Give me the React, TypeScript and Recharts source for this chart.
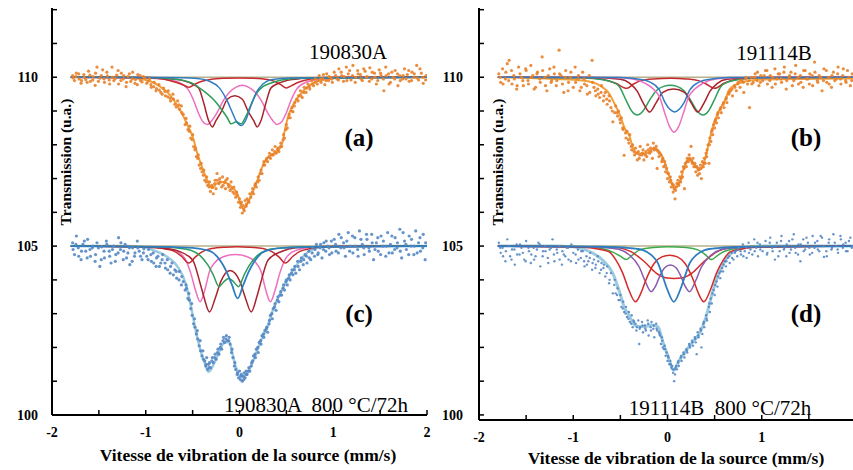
import React from 'react';
import { ComposedChart, Line, Scatter, XAxis, YAxis } from 'recharts';

type P = [number, number];

// ---------- x / y tick values ----------
const X_TICKS = [-2, -1.5, -1, -0.5, 0, 0.5, 1, 1.5, 2];
const Y_TICKS = [100, 101, 102, 103, 104, 105, 106, 107, 108, 109, 110, 111, 112];

// ---------- baselines ----------
const BASE_TOP: P[] = [[-1.8, 110], [2.0, 110]];
const BASE_BOT: P[] = [[-1.8, 105], [2.0, 105]];

// ================= Panel (a) 190830A =================
const FIT_A: P[] = [[-1.8,110.0],[-1.4,110.0],[-1.13,109.97],[-0.95,109.88],[-0.84,109.71],[-0.74,109.47],[-0.66,109.15],[-0.6,108.85],[-0.55,108.55],[-0.5,108.25],[-0.45,107.74],[-0.4,107.35],[-0.345,106.95],[-0.29,106.71],[-0.24,106.86],[-0.17,106.9],[-0.1,106.8],[-0.025,106.56],[0.04,106.11],[0.12,106.46],[0.19,106.95],[0.26,107.45],[0.33,107.69],[0.4,107.79],[0.455,108.04],[0.49,108.53],[0.53,108.93],[0.58,109.22],[0.65,109.5],[0.78,109.82],[0.94,109.94],[1.1,110.0],[2.0,110.0]];
const PINK_A: P[] = [[-1.8,110],[-1.0,109.98],[-0.8,109.94],[-0.65,109.85],[-0.55,109.65],[-0.49,109.32],[-0.44,108.95],[-0.39,108.68],[-0.345,108.6],[-0.3,108.7],[-0.25,108.9],[-0.22,109.05],[-0.17,109.32],[-0.11,109.55],[-0.04,109.7],[0.03,109.76],[0.1,109.7],[0.17,109.55],[0.23,109.32],[0.28,109.05],[0.31,108.9],[0.36,108.7],[0.4,108.6],[0.45,108.68],[0.5,108.95],[0.55,109.32],[0.61,109.65],[0.71,109.85],[0.86,109.94],[1.06,109.98],[2.0,110]];
const DKRED_A: P[] = [[-1.8,110],[-1.0,109.99],[-0.75,109.96],[-0.6,109.9],[-0.5,109.8],[-0.435,109.68],[-0.38,109.22],[-0.33,108.72],[-0.29,108.53],[-0.25,108.72],[-0.19,109.0],[-0.13,109.35],[-0.05,109.45],[0.03,109.35],[0.09,109.0],[0.15,108.72],[0.19,108.53],[0.23,108.72],[0.28,109.22],[0.335,109.68],[0.4,109.8],[0.5,109.9],[0.65,109.96],[0.9,109.99],[2.0,110]];
const RED_A: P[] = [[-1.8,110],[-1.0,109.99],[-0.8,109.94],[-0.68,109.85],[-0.6,109.77],[-0.54,109.7],[-0.47,109.8],[-0.4,109.88],[-0.3,109.94],[-0.15,109.97],[0.0,109.98],[0.15,109.97],[0.3,109.93],[0.38,109.87],[0.44,109.78],[0.5,109.68],[0.56,109.76],[0.63,109.85],[0.75,109.94],[0.95,109.99],[2.0,110]];
const GREEN_A: P[] = [[-1.8,110],[-1.0,109.99],[-0.75,109.96],[-0.59,109.9],[-0.5,109.82],[-0.42,109.67],[-0.34,109.5],[-0.28,109.35],[-0.24,109.22],[-0.18,109.0],[-0.13,108.8],[-0.09,108.62],[-0.035,108.68],[0.02,108.62],[0.06,108.8],[0.11,109.1],[0.15,109.35],[0.19,109.55],[0.25,109.72],[0.33,109.82],[0.45,109.92],[0.65,109.97],[2.0,110]];
const BLUE_A: P[] = [[-1.8,110],[-0.8,109.99],[-0.45,109.96],[-0.32,109.88],[-0.22,109.7],[-0.14,109.35],[-0.08,108.98],[-0.03,108.68],[0.02,108.57],[0.07,108.75],[0.12,109.15],[0.18,109.55],[0.25,109.8],[0.35,109.93],[0.55,109.98],[2.0,110]];
const SCAT_A: P[] = [
[-1.78,110.05],[-1.76,109.9],[-1.74,110.12],[-1.71,109.95],[-1.69,109.82],[-1.66,110.08],[-1.64,109.93],[-1.61,110.18],[-1.59,109.88],[-1.56,110.02],[-1.54,109.76],[-1.52,110.3],[-1.49,109.97],[-1.46,110.22],[-1.44,109.85],[-1.41,110.04],[-1.39,109.92],[-1.36,110.3],[-1.34,109.9],[-1.31,110.06],[-1.29,109.8],[-1.26,110.12],[-1.24,109.95],[-1.21,109.72],[-1.19,110.02],[-1.16,109.88],[-1.14,110.15],[-1.11,109.93],[-1.09,109.78],[-1.06,110.05],[-1.04,109.86],[-1.01,109.98],
[-0.99,109.82],[-0.96,109.95],[-0.94,109.7],[-0.91,109.85],[-0.89,109.6],[-0.86,109.78],[-0.84,109.55],[-0.81,109.68],[-0.79,109.45],[-0.76,109.6],[-0.74,109.38],[-0.71,109.5],[-0.69,109.2],[-0.66,109.3],[-0.64,109.05],[-0.62,109.15],
[-0.6,108.9],[-0.58,108.6],[-0.57,108.78],[-0.55,108.45],[-0.53,108.55],[-0.52,108.2],[-0.5,108.3],[-0.49,107.95],[-0.47,107.9],[-0.46,107.65],[-0.44,107.7],[-0.43,107.4],[-0.41,107.45],[-0.4,107.2],[-0.38,107.25],[-0.37,106.95],[-0.35,107.05],[-0.34,106.8],[-0.32,106.9],[-0.31,106.62],[-0.29,106.75],[-0.28,106.55],
[-0.26,106.95],[-0.25,106.7],[-0.24,107.15],[-0.22,106.85],[-0.21,107.0],[-0.19,106.75],[-0.18,107.05],[-0.16,106.88],[-0.15,106.7],[-0.13,107.0],[-0.12,106.82],[-0.1,106.65],[-0.09,106.9],[-0.07,106.6],[-0.06,106.75],[-0.04,106.45],[-0.03,106.6],[-0.01,106.3],[0.0,106.4],
[0.01,106.15],[0.02,106.3],[0.03,105.98],[0.04,106.2],[0.05,106.05],[0.06,106.35],[0.07,106.18],[0.08,106.4],[0.1,106.3],[0.11,106.55],
[0.12,106.45],[0.14,106.7],[0.15,106.55],[0.17,106.85],[0.18,106.75],[0.2,107.05],[0.21,106.95],[0.23,107.25],[0.24,107.15],[0.26,107.5],[0.27,107.4],[0.29,107.6],[0.3,107.5],[0.32,107.75],[0.33,107.6],[0.35,107.85],[0.36,107.7],[0.38,107.95],[0.39,107.75],[0.41,107.9],[0.42,107.8],[0.44,108.05],[0.45,107.95],[0.47,108.3],[0.48,108.2],[0.5,108.6],[0.51,108.5],[0.53,108.9],[0.54,108.8],[0.56,109.1],[0.57,108.98],[0.59,109.25],[0.61,109.35],
[0.63,109.45],[0.65,109.6],[0.67,109.4],[0.69,109.7],[0.71,109.55],[0.73,109.8],[0.75,109.65],[0.77,109.9],[0.79,109.75],[0.81,109.95],[0.83,109.8],[0.85,110.05],[0.87,109.85],[0.89,109.95],[0.91,109.78],[0.93,110.1],[0.95,109.9],[0.97,110.0],[0.99,109.85],
[1.01,110.15],[1.04,109.95],[1.06,110.25],[1.09,110.05],[1.11,109.88],[1.14,110.3],[1.16,110.1],[1.19,109.92],[1.21,110.35],[1.24,110.0],[1.26,110.2],[1.29,110.08],[1.31,109.9],[1.34,110.18],[1.36,110.02],[1.39,110.28],[1.41,109.95],[1.44,110.12],[1.46,109.8],[1.49,110.22],[1.51,110.05],[1.54,109.6],[1.56,110.3],[1.59,110.1],[1.61,109.85],[1.64,110.0],[1.66,110.2],[1.69,109.75],[1.71,110.05],[1.74,109.95],[1.76,110.25],[1.79,110.08],[1.81,109.88],[1.84,110.15],[1.86,110.0],[1.89,110.35],[1.91,109.92],[1.94,110.12],[1.96,109.82],[1.99,110.05]
];
const SCAT_A2: P[] = [
[-1.775,109.98],[-1.745,110.02],[-1.715,110.1],[-1.685,109.9],[-1.655,110.0],[-1.625,109.85],[-1.595,110.06],[-1.565,109.92],[-1.535,110.12],[-1.505,109.88],[-1.475,110.05],[-1.445,109.95],[-1.415,110.15],[-1.385,109.8],[-1.355,110.0],[-1.325,109.96],[-1.295,110.2],[-1.265,109.9],[-1.235,110.05],[-1.205,109.85],[-1.175,110.1],[-1.145,109.95],[-1.115,109.82],[-1.085,110.08],[-1.055,109.9],[-1.025,110.02],[-0.975,109.88],[-0.945,109.78],[-0.915,109.72],[-0.885,109.66],[-0.855,109.62],[-0.825,109.5],[-0.795,109.58],[-0.765,109.42],[-0.735,109.3],[-0.705,109.35],[-0.675,109.12],[-0.645,109.18],[-0.615,108.95],
[-0.565,108.65],[-0.535,108.4],[-0.505,108.15],[-0.475,107.85],[-0.445,107.6],[-0.415,107.3],[-0.385,107.1],[-0.355,106.9],[-0.325,106.75],[-0.295,106.8],[-0.265,106.85],[-0.235,106.95],[-0.205,106.9],[-0.175,106.8],[-0.145,106.95],[-0.115,106.75],[-0.085,106.7],[-0.055,106.55],[-0.025,106.5],[0.015,106.25],[0.045,106.1],[0.075,106.25],[0.095,106.35],[0.135,106.6],[0.165,106.8],[0.195,106.9],[0.225,107.15],[0.255,107.4],[0.285,107.55],[0.315,107.65],[0.345,107.7],[0.375,107.8],[0.405,107.85],[0.435,107.95],[0.465,108.15],[0.495,108.45],[0.525,108.8],[0.555,109.0],[0.585,109.15],
[0.625,109.3],[0.655,109.45],[0.685,109.55],[0.715,109.68],[0.745,109.72],[0.775,109.8],[0.805,109.85],[0.835,109.9],[0.865,109.95],[0.895,110.08],[0.925,109.9],[0.955,110.02],[0.985,109.95],[1.025,110.05],[1.055,109.92],[1.085,110.15],[1.115,110.02],[1.145,109.9],[1.175,110.2],[1.205,110.05],[1.235,109.85],[1.265,110.1],[1.295,109.95],[1.325,110.25],[1.355,110.0],[1.385,109.88],[1.415,110.15],[1.445,110.0],[1.475,109.9],[1.505,110.12],[1.535,109.95],[1.565,110.05],[1.595,109.8],[1.625,110.15],[1.655,109.95],[1.685,110.1],[1.715,109.9],[1.745,110.05],[1.775,109.95],[1.805,110.2],[1.835,109.9],[1.865,110.1],[1.895,109.98],[1.925,110.25],[1.955,110.0],[1.985,109.92]
];

// ================= Panel (c) 190830A 800 °C/72h =================
const FIT_C: P[] = [[-1.8,105],[-1.2,105],[-1.0,104.96],[-0.92,104.88],[-0.77,104.68],[-0.66,104.39],[-0.575,103.9],[-0.52,103.25],[-0.47,102.55],[-0.42,101.95],[-0.37,101.53],[-0.33,101.28],[-0.24,101.72],[-0.17,102.12],[-0.11,102.17],[-0.08,101.87],[-0.04,101.43],[-0.01,101.18],[0.03,101.13],[0.08,101.23],[0.135,101.53],[0.19,101.92],[0.24,102.27],[0.3,102.61],[0.35,103.06],[0.4,103.4],[0.47,103.8],[0.53,104.1],[0.6,104.4],[0.72,104.8],[0.86,104.97],[1.0,105],[2.0,105]];
const PINK_C: P[] = [[-1.8,105],[-0.9,104.97],[-0.75,104.92],[-0.65,104.82],[-0.58,104.62],[-0.52,104.2],[-0.47,103.7],[-0.42,103.35],[-0.37,103.7],[-0.32,104.25],[-0.26,104.52],[-0.18,104.68],[-0.045,104.75],[0.09,104.68],[0.17,104.52],[0.23,104.25],[0.28,103.7],[0.33,103.35],[0.38,103.7],[0.43,104.2],[0.49,104.62],[0.56,104.82],[0.66,104.92],[0.81,104.97],[1.3,105],[2.0,105]];
const DKRED_C: P[] = [[-1.8,105],[-1.0,104.97],[-0.8,104.93],[-0.65,104.85],[-0.5,104.59],[-0.42,103.9],[-0.38,103.5],[-0.32,103.05],[-0.26,103.45],[-0.2,103.95],[-0.1,104.28],[0.005,103.95],[0.065,103.45],[0.125,103.05],[0.185,103.5],[0.225,103.9],[0.305,104.59],[0.455,104.85],[0.6,104.95],[0.9,104.99],[2.0,105]];
const RED_C: P[] = [[-1.8,105],[-1.0,104.98],[-0.8,104.92],[-0.7,104.85],[-0.62,104.7],[-0.54,104.5],[-0.47,104.68],[-0.4,104.83],[-0.3,104.93],[-0.15,104.97],[-0.025,104.98],[0.1,104.97],[0.25,104.93],[0.35,104.83],[0.42,104.68],[0.49,104.5],[0.57,104.7],[0.65,104.85],[0.75,104.92],[0.95,104.98],[2.0,105]];
const GREEN_C: P[] = [[-1.8,105],[-0.9,104.98],[-0.65,104.94],[-0.52,104.88],[-0.42,104.72],[-0.34,104.45],[-0.28,104.15],[-0.22,103.8],[-0.165,103.95],[-0.115,104.04],[-0.065,103.95],[-0.01,103.8],[0.05,104.15],[0.11,104.45],[0.19,104.72],[0.29,104.88],[0.42,104.94],[0.7,104.98],[2.0,105]];
const BLUE_C: P[] = [[-1.8,105],[-0.8,104.98],[-0.5,104.95],[-0.38,104.9],[-0.28,104.8],[-0.2,104.55],[-0.14,104.25],[-0.08,103.85],[-0.02,103.45],[0.04,103.85],[0.1,104.25],[0.16,104.55],[0.24,104.8],[0.34,104.9],[0.46,104.95],[0.8,104.98],[2.0,105]];
const SCAT_C: P[] = [
[-1.78,105.1],[-1.76,104.75],[-1.74,105.3],[-1.72,104.95],[-1.69,104.6],[-1.67,105.05],[-1.64,104.85],[-1.62,105.2],[-1.59,104.7],[-1.57,104.95],[-1.54,104.55],[-1.52,105.1],[-1.49,104.4],[-1.47,104.98],[-1.44,104.65],[-1.42,105.15],[-1.39,104.85],[-1.37,104.5],[-1.34,105.0],[-1.32,104.75],[-1.29,105.25],[-1.27,104.9],[-1.24,104.6],[-1.22,105.05],[-1.19,104.8],[-1.17,104.45],[-1.14,104.95],[-1.12,104.7],[-1.09,105.15],[-1.07,104.85],[-1.04,104.6],[-1.02,104.92],
[-0.99,104.7],[-0.97,104.9],[-0.94,104.55],[-0.92,104.8],[-0.89,104.4],[-0.87,104.7],[-0.84,104.5],[-0.82,104.75],[-0.79,104.35],[-0.77,104.6],[-0.74,104.2],[-0.72,104.5],[-0.69,104.3],[-0.67,104.05],[-0.64,104.25],[-0.62,103.85],
[-0.6,103.95],[-0.58,103.7],[-0.57,103.85],[-0.55,103.45],[-0.54,103.6],[-0.52,103.15],[-0.51,103.3],[-0.49,102.7],[-0.48,102.85],[-0.46,102.4],[-0.45,102.5],[-0.43,102.05],[-0.42,102.2],[-0.4,101.75],[-0.39,101.9],[-0.37,101.6],[-0.36,101.45],[-0.35,101.7],[-0.34,101.35],[-0.33,101.5],
[-0.32,101.55],[-0.31,101.4],[-0.29,101.7],[-0.28,101.55],[-0.26,101.8],[-0.25,101.65],[-0.23,101.95],[-0.22,101.8],[-0.2,102.1],[-0.19,101.95],[-0.17,102.3],[-0.16,102.15],[-0.14,102.35],[-0.13,102.2],[-0.11,102.3],[-0.1,102.1],
[-0.08,101.95],[-0.07,101.7],[-0.05,101.55],[-0.04,101.35],[-0.02,101.25],[-0.01,101.1],[0.0,101.3],[0.01,101.05],[0.02,101.2],[0.03,101.0],[0.04,101.15],[0.05,101.25],[0.06,101.1],[0.07,101.3],[0.08,101.2],[0.1,101.4],[0.11,101.3],[0.13,101.55],
[0.14,101.6],[0.15,101.75],[0.17,101.7],[0.18,101.95],[0.2,101.85],[0.21,102.15],[0.23,102.1],[0.24,102.35],[0.26,102.3],[0.27,102.5],[0.29,102.6],[0.3,102.45],[0.32,102.8],[0.33,102.95],[0.35,102.85],[0.36,103.15],[0.38,103.3],[0.39,103.1],[0.41,103.5],[0.42,103.35],[0.44,103.65],[0.45,103.55],[0.47,103.85],[0.48,103.7],[0.5,104.0],[0.51,103.85],[0.53,104.15],[0.54,104.0],[0.56,104.3],[0.57,104.15],[0.59,104.4],[0.6,104.2],
[0.62,104.55],[0.64,104.3],[0.66,104.65],[0.68,104.45],[0.7,104.75],[0.72,104.5],[0.74,104.85],[0.76,104.6],[0.78,104.95],[0.8,104.7],[0.82,105.05],[0.84,104.8],[0.86,104.95],[0.88,104.65],[0.9,105.1],[0.92,104.85],[0.94,105.0],[0.96,104.75],[0.98,105.15],
[1.01,105.2],[1.03,104.85],[1.06,105.35],[1.08,104.95],[1.11,105.1],[1.13,104.7],[1.16,105.4],[1.18,105.0],[1.21,104.8],[1.23,105.25],[1.26,104.9],[1.28,105.45],[1.31,105.05],[1.33,104.75],[1.36,105.2],[1.38,104.95],[1.41,105.35],[1.43,104.6],[1.46,105.1],[1.48,104.85],[1.51,105.3],[1.53,105.0],[1.56,104.7],[1.58,105.4],[1.61,105.05],[1.63,104.8],[1.66,105.25],[1.68,104.95],[1.71,105.5],[1.73,104.65],[1.76,105.15],[1.78,104.9],[1.81,105.3],[1.83,105.0],[1.86,104.75],[1.88,105.45],[1.91,105.1],[1.93,104.85],[1.96,105.35],[1.98,104.6]
];
const SCAT_C2: P[] = [
[-1.775,104.9],[-1.745,105.05],[-1.715,104.7],[-1.685,104.85],[-1.655,105.15],[-1.625,104.65],[-1.595,104.9],[-1.565,105.0],[-1.535,104.75],[-1.505,104.95],[-1.475,104.6],[-1.445,104.85],[-1.415,105.05],[-1.385,104.7],[-1.355,104.9],[-1.325,104.55],[-1.295,104.8],[-1.265,105.1],[-1.235,104.85],[-1.205,104.65],[-1.175,104.95],[-1.145,104.55],[-1.115,104.8],[-1.085,104.95],[-1.055,104.7],[-1.025,104.8],[-0.975,104.6],[-0.945,104.75],[-0.915,104.5],[-0.885,104.65],[-0.855,104.4],[-0.825,104.6],[-0.795,104.5],[-0.765,104.3],[-0.735,104.4],[-0.705,104.15],[-0.675,104.25],[-0.645,104.0],[-0.615,104.1],
[-0.565,103.75],[-0.535,103.4],[-0.505,102.95],[-0.475,102.6],[-0.445,102.25],[-0.415,101.9],[-0.385,101.65],[-0.355,101.5],[-0.325,101.4],[-0.295,101.6],[-0.265,101.7],[-0.235,101.85],[-0.205,102.0],[-0.175,102.2],[-0.145,102.25],[-0.115,102.2],[-0.085,101.85],[-0.055,101.45],[-0.025,101.2],[0.015,101.15],[0.045,101.05],[0.075,101.2],[0.095,101.3],[0.125,101.45],[0.165,101.8],[0.195,102.0],[0.225,102.2],[0.255,102.4],[0.285,102.55],[0.315,102.7],[0.345,103.0],[0.375,103.2],[0.405,103.4],[0.435,103.55],[0.465,103.75],[0.495,103.95],[0.525,104.05],[0.555,104.2],[0.585,104.3],
[0.625,104.4],[0.655,104.55],[0.685,104.6],[0.715,104.7],[0.745,104.65],[0.775,104.8],[0.805,104.9],[0.835,104.75],[0.865,105.05],[0.895,104.9],[0.925,105.15],[0.955,104.95],[0.985,104.8],[1.025,105.05],[1.055,104.8],[1.085,105.25],[1.115,104.95],[1.145,105.15],[1.175,104.85],[1.205,105.3],[1.235,105.0],[1.265,104.7],[1.295,105.2],[1.325,104.95],[1.355,105.35],[1.385,104.85],[1.415,105.1],[1.445,104.9],[1.475,105.25],[1.505,104.75],[1.535,105.15],[1.565,105.0],[1.595,104.8],[1.625,105.3],[1.655,104.9],[1.685,105.1],[1.715,104.85],[1.745,105.4],[1.775,105.05],[1.805,104.75],[1.835,105.2],[1.865,105.0],[1.895,104.8],[1.925,105.25],[1.955,104.95],[1.985,105.1]
];

// ================= Panel (b) 191114B =================
const FIT_B: P[] = [[-1.8,110],[-1.2,109.95],[-0.9,109.9],[-0.72,109.76],[-0.62,109.52],[-0.55,109.15],[-0.5,108.85],[-0.46,108.53],[-0.4,108.23],[-0.37,107.94],[-0.32,107.74],[-0.23,107.74],[-0.14,107.89],[-0.085,107.79],[-0.03,107.49],[0.02,107.05],[0.075,106.71],[0.13,106.9],[0.18,107.35],[0.23,107.59],[0.29,107.4],[0.34,107.25],[0.39,107.49],[0.43,107.94],[0.48,108.53],[0.535,108.93],[0.61,109.32],[0.66,109.65],[0.8,109.86],[1.0,109.93],[2.0,109.96]];
const PINK_B: P[] = [[-1.8,110],[-0.6,109.99],[-0.37,109.95],[-0.23,109.81],[-0.15,109.65],[-0.085,109.42],[-0.03,108.95],[0.02,108.55],[0.07,108.37],[0.12,108.55],[0.17,108.95],[0.225,109.42],[0.29,109.65],[0.37,109.81],[0.51,109.95],[0.75,109.99],[2.0,110]];
const BLUE_B: P[] = [[-1.8,110],[-0.5,109.99],[-0.3,109.94],[-0.19,109.86],[-0.085,109.62],[-0.03,109.27],[0.025,109.05],[0.075,108.97],[0.125,109.05],[0.18,109.27],[0.235,109.62],[0.34,109.86],[0.45,109.94],[0.65,109.99],[2.0,110]];
const GREEN_B: P[] = [[-1.8,110],[-0.9,109.98],[-0.7,109.93],[-0.58,109.85],[-0.51,109.72],[-0.44,109.32],[-0.38,109.0],[-0.32,108.88],[-0.26,109.0],[-0.19,109.32],[-0.12,109.6],[-0.04,109.73],[0.03,109.76],[0.1,109.73],[0.175,109.6],[0.245,109.32],[0.315,109.0],[0.375,108.88],[0.435,109.0],[0.495,109.32],[0.565,109.72],[0.635,109.85],[0.755,109.93],[0.955,109.98],[2.0,110]];
const DKRED_B: P[] = [[-1.8,110],[-0.8,109.99],[-0.5,109.94],[-0.4,109.82],[-0.32,109.58],[-0.26,109.25],[-0.19,108.97],[-0.12,109.25],[-0.05,109.55],[0.065,109.65],[0.18,109.55],[0.25,109.25],[0.32,108.97],[0.39,109.25],[0.45,109.58],[0.53,109.82],[0.63,109.94],[0.93,109.99],[2.0,110]];
const RED_B: P[] = [[-1.8,110],[-0.9,109.99],[-0.68,109.93],[-0.55,109.82],[-0.43,109.67],[-0.36,109.8],[-0.28,109.9],[-0.15,109.95],[0.035,109.97],[0.2,109.95],[0.33,109.9],[0.41,109.8],[0.5,109.67],[0.6,109.82],[0.73,109.93],[0.95,109.99],[2.0,110]];
const SCAT_B: P[] = [
[-1.79,110.1],[-1.77,109.85],[-1.75,110.25],[-1.72,109.95],[-1.7,110.4],[-1.68,110.5],[-1.65,109.8],[-1.63,110.05],[-1.6,109.65],[-1.58,110.3],[-1.55,110.0],[-1.53,109.75],[-1.5,110.2],[-1.48,109.9],[-1.45,110.35],[-1.43,110.05],[-1.4,109.7],[-1.38,110.15],[-1.35,109.85],[-1.33,110.6],[-1.3,110.0],[-1.28,109.6],[-1.25,110.25],[-1.23,109.9],[-1.2,110.1],[-1.18,109.75],[-1.15,110.8],[-1.13,110.05],[-1.1,109.55],[-1.08,110.2],[-1.05,109.85],[-1.03,110.0],[-1.0,109.7],[-0.98,110.3],[-0.95,109.95],[-0.93,109.6],[-0.9,110.15],[-0.88,109.8],[-0.85,109.5],[-0.83,110.05],[-0.8,110.5],[-0.78,109.7],[-0.76,109.45],
[-0.74,109.65],[-0.72,109.4],[-0.7,109.75],[-0.68,109.3],[-0.66,109.55],[-0.64,109.2],[-0.62,109.45],[-0.6,109.1],[-0.58,108.68],[-0.56,108.95],
[-0.55,109.15],[-0.53,108.85],[-0.52,109.0],[-0.5,108.65],[-0.49,108.8],[-0.47,108.45],[-0.46,107.69],[-0.44,108.2],[-0.43,108.4],[-0.41,108.05],[-0.4,108.3],[-0.38,107.85],[-0.37,108.0],[-0.35,107.7],[-0.34,107.9],[-0.32,107.55],
[-0.31,107.8],[-0.3,107.6],[-0.29,107.95],[-0.27,107.7],[-0.26,107.85],[-0.25,107.55],[-0.23,107.8],[-0.22,107.65],[-0.21,108.0],[-0.19,107.75],[-0.18,107.9],[-0.16,107.6],[-0.15,108.05],[-0.14,107.85],[-0.12,107.95],[-0.11,107.3],[-0.1,107.8],[-0.09,107.65],
[-0.07,107.7],[-0.06,107.5],[-0.05,107.6],[-0.04,107.35],[-0.03,107.5],[-0.02,107.2],[-0.01,107.3],[0.0,107.0],[0.01,107.15],[0.02,106.9],[0.03,107.05],[0.04,106.75],[0.05,106.85],[0.06,106.6],[0.07,106.7],[0.08,106.4],[0.09,106.75],
[0.1,106.85],[0.11,106.95],[0.12,106.8],[0.13,107.05],[0.14,106.9],[0.15,107.2],[0.16,107.05],[0.17,107.35],[0.18,106.7],[0.19,107.45],[0.2,107.35],[0.21,107.6],[0.22,107.5],[0.23,107.7],[0.24,107.55],
[0.25,107.95],[0.26,107.5],[0.27,107.6],[0.28,107.35],[0.29,107.45],[0.3,107.2],[0.31,107.35],[0.32,107.1],[0.33,107.3],[0.34,107.15],[0.35,107.4],[0.36,107.0],[0.37,107.5],[0.38,107.35],[0.39,107.6],[0.4,107.45],[0.41,107.75],
[0.42,107.85],[0.43,108.0],[0.44,107.45],[0.45,108.2],[0.46,108.1],[0.47,108.4],[0.48,108.3],[0.49,108.6],[0.5,108.5],[0.51,108.75],[0.52,108.65],[0.53,108.9],[0.54,108.8],[0.56,109.05],[0.57,108.95],[0.59,109.2],[0.6,109.1],[0.62,109.35],[0.63,109.25],[0.65,109.5],
[0.67,109.6],[0.69,109.45],[0.71,109.75],[0.73,109.6],[0.75,109.85],[0.77,109.7],[0.79,109.9],[0.81,109.55],[0.83,109.95],[0.85,109.8],[0.87,109.1],[0.89,110.0],[0.91,109.85],[0.93,110.1],[0.95,109.9],[0.97,109.75],[0.99,110.05],
[1.01,109.9],[1.04,110.2],[1.06,109.8],[1.09,110.05],[1.11,109.7],[1.14,110.25],[1.16,109.95],[1.19,110.1],[1.21,109.85],[1.24,110.3],[1.26,109.65],[1.29,110.0],[1.31,110.15],[1.34,109.9],[1.36,110.35],[1.39,109.8],[1.41,110.05],[1.44,109.7],[1.46,110.2],[1.49,109.95],[1.51,110.1],[1.54,109.75],[1.56,110.45],[1.59,109.9],[1.61,110.05],[1.64,109.6],[1.66,110.25],[1.69,109.85],[1.71,110.0],[1.74,109.7],[1.76,110.15],[1.79,109.95],[1.81,110.3],[1.84,109.8],[1.86,110.05],[1.89,109.9],[1.91,110.2],[1.94,109.75],[1.96,110.1]
];
const SCAT_B2: P[] = [
[-1.775,110.0],[-1.745,109.8],[-1.715,110.15],[-1.685,109.9],[-1.655,110.2],[-1.625,109.95],[-1.595,109.75],[-1.565,110.1],[-1.535,109.9],[-1.505,110.25],[-1.475,109.8],[-1.445,110.0],[-1.415,109.65],[-1.385,110.1],[-1.355,109.95],[-1.325,110.2],[-1.295,109.75],[-1.265,110.05],[-1.235,109.85],[-1.205,110.3],[-1.175,109.9],[-1.145,110.1],[-1.115,109.8],[-1.085,110.0],[-1.055,109.6],[-1.025,110.15],[-0.975,109.85],[-0.945,110.05],[-0.915,109.7],[-0.885,109.95],[-0.855,109.75],[-0.825,109.55],[-0.795,109.85],[-0.765,109.6],[-0.735,109.5],[-0.705,109.55],[-0.675,109.45],[-0.645,109.35],[-0.615,109.3],[-0.585,109.0],
[-0.535,108.95],[-0.505,108.75],[-0.475,108.5],[-0.445,108.35],[-0.415,108.15],[-0.385,107.95],[-0.355,107.8],[-0.325,107.75],[-0.295,107.7],[-0.265,107.75],[-0.235,107.7],[-0.205,107.85],[-0.175,107.8],[-0.145,107.9],[-0.115,107.85],[-0.085,107.75],[-0.055,107.55],[-0.025,107.4],[0.005,107.15],[0.035,106.95],[0.065,106.8],[0.085,106.65],[0.115,106.85],[0.145,107.0],[0.175,107.3],[0.205,107.5],[0.235,107.6],[0.265,107.45],[0.295,107.35],[0.325,107.25],[0.355,107.3],[0.385,107.45],[0.415,107.65],[0.445,108.0],[0.475,108.45],[0.505,108.7],[0.535,108.95],[0.565,109.1],[0.595,109.25],
[0.625,109.4],[0.655,109.55],[0.685,109.65],[0.715,109.7],[0.745,109.8],[0.775,109.9],[0.805,109.85],[0.835,110.0],[0.865,109.9],[0.895,109.8],[0.925,110.0],[0.955,110.15],[0.985,109.85],[1.025,110.05],[1.055,110.2],[1.085,109.9],[1.115,110.0],[1.145,109.8],[1.175,110.1],[1.205,109.95],[1.235,110.15],[1.265,109.9],[1.295,110.05],[1.325,109.75],[1.355,110.1],[1.385,110.0],[1.415,109.85],[1.445,110.2],[1.475,109.95],[1.505,109.8],[1.535,110.05],[1.565,110.15],[1.595,109.85],[1.625,110.0],[1.655,109.9],[1.685,110.2],[1.715,109.8],[1.745,110.05],[1.775,109.9],[1.805,110.1],[1.835,109.95],[1.865,110.25],[1.895,109.85],[1.925,110.0],[1.955,109.9]
];

// ================= Panel (d) 191114B 800 °C/72h =================
const FIT_D: P[] = [[-1.8,105],[-1.2,105],[-1.0,104.98],[-0.865,104.88],[-0.69,104.59],[-0.58,104.19],[-0.51,103.65],[-0.46,103.2],[-0.4,102.91],[-0.35,102.66],[-0.26,102.61],[-0.17,102.66],[-0.1,102.61],[-0.05,102.17],[0.0,101.78],[0.067,101.33],[0.13,101.63],[0.2,101.92],[0.27,102.17],[0.34,102.42],[0.41,102.91],[0.465,103.5],[0.52,104.0],[0.57,104.35],[0.63,104.65],[0.73,104.88],[0.87,104.98],[1.0,105],[2.0,105]];
const RED_D: P[] = [[-1.8,105],[-1.0,104.98],[-0.8,104.94],[-0.62,104.83],[-0.55,104.6],[-0.475,104.2],[-0.41,103.7],[-0.34,103.35],[-0.28,103.62],[-0.23,103.99],[-0.14,104.49],[-0.06,104.68],[0.0225,104.73],[0.105,104.68],[0.185,104.49],[0.275,103.99],[0.325,103.62],[0.385,103.35],[0.455,103.7],[0.52,104.2],[0.595,104.6],[0.665,104.83],[0.845,104.94],[1.05,104.98],[2.0,105]];
const RED2_D: P[] = [[-1.8,105],[-0.6,104.97],[-0.4,104.85],[-0.25,104.55],[-0.12,104.2],[-0.02,104.06],[0.07,104.04],[0.16,104.06],[0.26,104.2],[0.39,104.55],[0.54,104.85],[0.74,104.97],[2.0,105]];
const PURPLE_D: P[] = [[-1.8,105],[-0.9,104.98],[-0.65,104.95],[-0.51,104.9],[-0.4,104.73],[-0.3,104.38],[-0.235,103.95],[-0.175,103.65],[-0.12,103.85],[-0.085,104.09],[-0.03,104.36],[0.03,104.44],[0.09,104.36],[0.145,104.09],[0.18,103.85],[0.235,103.65],[0.295,103.95],[0.36,104.38],[0.46,104.73],[0.57,104.9],[0.71,104.95],[0.96,104.98],[2.0,105]];
const BLUE_D: P[] = [[-1.8,105],[-0.7,104.98],[-0.4,104.94],[-0.26,104.88],[-0.17,104.73],[-0.1,104.49],[-0.05,104.1],[0.0,103.7],[0.067,103.35],[0.134,103.7],[0.184,104.1],[0.234,104.49],[0.304,104.73],[0.394,104.88],[0.534,104.94],[0.834,104.98],[2.0,105]];
const GREEN_D: P[] = [[-1.8,105],[-0.9,104.99],[-0.7,104.93],[-0.58,104.82],[-0.5,104.7],[-0.44,104.6],[-0.38,104.72],[-0.3,104.88],[-0.15,104.96],[0.01,104.98],[0.2,104.96],[0.33,104.88],[0.4,104.75],[0.465,104.6],[0.53,104.72],[0.6,104.84],[0.72,104.93],[0.9,104.99],[2.0,105]];
const SCAT_D: P[] = [
[-1.79,105.1],[-1.77,104.8],[-1.75,104.95],[-1.72,104.55],[-1.7,105.2],[-1.67,104.7],[-1.65,104.9],[-1.62,104.45],[-1.6,105.05],[-1.57,104.75],[-1.55,104.95],[-1.52,104.6],[-1.5,105.15],[-1.47,104.85],[-1.45,104.5],[-1.42,104.95],[-1.4,104.7],[-1.37,105.1],[-1.35,104.4],[-1.32,104.85],[-1.3,105.0],[-1.27,104.65],[-1.25,104.9],[-1.22,105.2],[-1.2,104.55],[-1.17,104.8],[-1.15,105.0],[-1.12,104.45],[-1.1,104.75],[-1.07,104.95],[-1.05,104.6],[-1.02,105.05],[-1.0,104.8],[-0.97,104.5],[-0.95,104.9],[-0.92,104.65],
[-0.9,104.85],[-0.88,104.4],[-0.86,104.7],[-0.84,104.55],[-0.82,104.8],[-0.8,104.3],[-0.78,104.6],[-0.76,104.45],[-0.74,104.7],[-0.72,104.2],[-0.7,104.5],[-0.68,104.35],[-0.66,104.1],[-0.64,104.4],[-0.62,103.9],[-0.6,104.2],
[-0.58,103.6],[-0.56,104.0],[-0.55,103.6],[-0.53,103.75],[-0.52,103.4],[-0.5,103.55],[-0.49,103.2],[-0.47,103.35],[-0.46,103.05],[-0.44,103.2],[-0.43,102.9],[-0.41,103.05],[-0.4,102.75],[-0.38,102.95],[-0.37,102.6],[-0.36,102.8],
[-0.34,102.7],[-0.33,102.5],[-0.31,102.8],[-0.3,102.1],[-0.29,102.6],[-0.27,102.75],[-0.26,102.45],[-0.24,102.65],[-0.23,102.5],[-0.21,102.8],[-0.2,102.35],[-0.18,102.6],[-0.17,102.75],[-0.15,102.55],[-0.14,102.3],[-0.12,102.7],[-0.11,102.5],[-0.09,102.45],
[-0.08,102.35],[-0.07,102.1],[-0.06,102.3],[-0.05,102.0],[-0.04,101.95],[-0.03,102.05],[-0.02,101.75],[-0.01,101.85],[0.0,101.6],[0.01,101.7],[0.02,101.5],[0.03,101.6],[0.04,101.4],[0.05,101.45],[0.06,101.25],[0.07,101.0],[0.075,101.35],[0.08,101.2],
[0.09,101.45],[0.1,101.35],[0.11,101.55],[0.12,101.45],[0.14,101.7],[0.15,101.6],[0.17,101.85],[0.18,101.7],[0.2,101.95],[0.21,101.85],[0.23,102.1],[0.24,102.0],[0.26,102.2],[0.27,102.05],[0.29,102.3],[0.3,102.15],[0.31,101.8],[0.32,102.45],[0.33,102.3],[0.35,102.55],[0.36,102.0],[0.37,102.4],[0.38,102.7],[0.39,102.6],[0.41,102.95],[0.42,102.8],[0.44,103.2],[0.45,103.05],
[0.46,103.45],[0.47,103.3],[0.49,103.7],[0.5,103.55],[0.52,103.95],[0.53,103.8],[0.55,104.2],[0.56,104.05],[0.58,104.35],[0.59,104.25],[0.61,104.55],[0.62,104.4],[0.64,104.65],[0.66,104.5],[0.68,104.8],[0.7,104.6],
[0.72,104.85],[0.74,104.7],[0.76,104.95],[0.78,104.75],[0.8,105.05],[0.82,104.85],[0.84,104.65],[0.86,105.1],[0.88,104.9],[0.9,104.75],[0.92,105.2],[0.94,104.95],[0.96,104.7],[0.98,105.05],[1.01,104.85],[1.04,105.15],[1.06,104.8],[1.09,105.25],[1.11,104.95],[1.14,104.6],[1.16,105.1],[1.19,104.85],[1.21,105.3],[1.24,104.95],[1.26,104.7],[1.29,105.15],[1.31,104.9],[1.34,105.35],[1.36,104.8],[1.39,105.05],[1.41,104.55],[1.44,105.2],[1.46,104.9],[1.49,105.1],[1.51,104.75],[1.54,105.3],[1.56,104.95],[1.59,105.15],[1.61,104.85],[1.64,105.25],[1.66,104.68],[1.69,104.7],[1.71,105.1],[1.74,104.9],[1.76,105.35],[1.79,105.0],[1.81,104.8],[1.84,105.2],[1.86,104.95],[1.89,105.1],[1.91,104.85],[1.94,105.25],[1.96,105.0]
];
const SCAT_D2: P[] = [
[-1.775,104.95],[-1.745,104.7],[-1.715,104.85],[-1.685,105.0],[-1.655,104.6],[-1.625,104.9],[-1.595,104.75],[-1.565,105.05],[-1.535,104.8],[-1.505,104.55],[-1.475,104.95],[-1.445,104.75],[-1.415,104.6],[-1.385,104.9],[-1.355,105.05],[-1.325,104.7],[-1.295,104.85],[-1.265,104.5],[-1.235,104.95],[-1.205,104.75],[-1.175,104.9],[-1.145,104.6],[-1.115,104.85],[-1.085,104.7],[-1.055,104.95],[-1.025,104.55],[-0.975,104.75],[-0.945,104.6],[-0.915,104.85],[-0.885,104.55],[-0.855,104.45],[-0.825,104.65],[-0.795,104.5],[-0.765,104.35],[-0.735,104.55],[-0.705,104.3],[-0.675,104.45],[-0.645,104.2],[-0.615,104.0],
[-0.565,103.85],[-0.535,103.55],[-0.505,103.4],[-0.475,103.15],[-0.445,103.0],[-0.415,102.85],[-0.385,102.7],[-0.355,102.75],[-0.325,102.6],[-0.295,102.55],[-0.265,102.65],[-0.235,102.55],[-0.205,102.7],[-0.175,102.5],[-0.145,102.65],[-0.115,102.55],[-0.085,102.4],[-0.055,102.2],[-0.025,101.95],[0.005,101.75],[0.035,101.5],[0.055,101.35],[0.085,101.4],[0.115,101.6],[0.145,101.75],[0.175,101.8],[0.205,101.9],[0.235,102.05],[0.265,102.15],[0.295,102.25],[0.325,102.35],[0.355,102.5],[0.385,102.75],[0.415,102.85],[0.445,103.3],[0.475,103.6],[0.505,103.85],[0.535,104.1],[0.565,104.25],[0.595,104.45],
[0.625,104.55],[0.655,104.7],[0.685,104.65],[0.715,104.8],[0.745,104.9],[0.775,104.85],[0.805,104.7],[0.835,104.95],[0.865,104.8],[0.895,105.0],[0.925,104.85],[0.955,105.1],[0.985,104.9],[1.025,105.0],[1.055,104.75],[1.085,105.1],[1.115,104.85],[1.145,105.0],[1.175,104.7],[1.205,105.15],[1.235,104.9],[1.265,105.05],[1.295,104.8],[1.325,105.2],[1.355,104.95],[1.385,104.75],[1.415,105.05],[1.445,104.85],[1.475,105.25],[1.505,104.95],[1.535,104.8],[1.565,105.1],[1.595,104.9],[1.625,105.3],[1.655,105.0],[1.685,104.85],[1.715,105.2],[1.745,104.95],[1.775,105.1],[1.805,104.9],[1.835,105.3],[1.865,105.05],[1.895,104.85],[1.925,105.15],[1.955,104.95]
];

// ---------- styling ----------
const SERIF = "'Liberation Serif','Times New Roman',Times,serif";
const C = {
  orangePt: '#E8812A', orangeFit: '#F2A03A',
  bluePt: '#5487C4', blueFit: '#9CCBE0',
  pink: '#EE6FC0', dkred: '#A8232B', red: '#C62A2F', green: '#2E9E5B', blue: '#2F7DC0',
  tan: '#B8B08C', red2: '#D42A2A', purple: '#8A5AAE', greenD: '#3BAA4A',
};

const pts = (a: P[]) => a.map(([v, t]) => ({ v, t }));
const dot = (color: string, r: number) => (props: any) =>
  props.cx == null ? <g /> : <circle cx={props.cx} cy={props.cy} r={r} fill={color} fillOpacity={0.9} />;

const fmtX = (v: number) => (Number.isInteger(v) ? String(v) : '');
const fmtXRight = (v: number) => (Number.isInteger(v) && v < 2 ? String(v) : '');
const fmtY = (v: number) => (v % 5 === 0 ? String(v) : '');

type LS = [P[], string, number];

function lines(list: LS[], key: string) {
  return list.map(([d, color, w], i) => (
    <Line key={key + i} data={pts(d)} dataKey="t" type="monotone" stroke={color} strokeWidth={w}
      dot={false} activeDot={false} isAnimationActive={false} />
  ));
}

const tickStyle = { fontFamily: SERIF, fontSize: 14, fontWeight: 700, fill: '#000' };
const axisLine = { stroke: '#000', strokeWidth: 2 };
const tickLine = { stroke: '#000', strokeWidth: 1.5 };

function Txt({ x, y, size, bold, children, rotate }: any) {
  return (
    <div style={{
      position: 'absolute', left: x, top: y, transform: `translate(-50%,-50%)${rotate ? ' rotate(-90deg)' : ''}`,
      fontFamily: SERIF, fontSize: size, fontWeight: bold ? 700 : 400, whiteSpace: 'pre', lineHeight: 1, color: '#000',
    }}>{children}</div>
  );
}

export default function App() {
  return (
    <div style={{ position: 'absolute', left: 0, top: 0, width: 853, height: 470, overflow: 'hidden', background: '#fff' }}>
      {/* left chart: (a) and (c) */}
      <div style={{ position: 'absolute', left: 0, top: 0 }}>
        <ComposedChart width={440} height={470} margin={{ top: 8, right: 13, left: 0, bottom: 0 }}>
          <XAxis dataKey="v" type="number" domain={[-2, 2]} ticks={X_TICKS} tickFormatter={fmtX} height={55}
            tickSize={-5} tickMargin={17} tick={tickStyle} axisLine={axisLine} tickLine={tickLine} allowDataOverflow />
          <XAxis xAxisId="top" orientation="top" type="number" domain={[-2, 2]} height={0} tick={false} tickLine={false} axisLine={axisLine} />
          <YAxis dataKey="t" type="number" domain={[100, 112.05]} ticks={Y_TICKS} tickFormatter={fmtY} width={52}
            tickSize={-5} tickMargin={19} tick={tickStyle} axisLine={axisLine} tickLine={tickLine} allowDataOverflow />
          <YAxis yAxisId="right" orientation="right" type="number" domain={[100, 112.05]} width={0} tick={false} tickLine={false} axisLine={axisLine} />
          {lines([[FIT_A, C.orangeFit, 2], [FIT_C, C.blueFit, 2.5]], 'fit')}
          <Scatter data={pts(SCAT_A)} shape={dot(C.orangePt, 1.6)} isAnimationActive={false} />
          <Scatter data={pts(SCAT_A2)} shape={dot(C.orangePt, 1.6)} isAnimationActive={false} />
          <Scatter data={pts(SCAT_C)} shape={dot(C.bluePt, 1.6)} isAnimationActive={false} />
          <Scatter data={pts(SCAT_C2)} shape={dot(C.bluePt, 1.6)} isAnimationActive={false} />
          {lines([
            [BASE_TOP, C.tan, 1.5], [BASE_BOT, C.tan, 1.5],
            [PINK_A, C.pink, 1.5], [RED_A, C.red, 1.5], [DKRED_A, C.dkred, 1.5], [GREEN_A, C.green, 1.5], [BLUE_A, C.blue, 1.5],
            [PINK_C, C.pink, 1.5], [RED_C, C.red, 1.5], [DKRED_C, C.dkred, 1.5], [GREEN_C, C.green, 1.5], [BLUE_C, C.blue, 1.8],
          ], 'comp')}
        </ComposedChart>
      </div>
      {/* right chart: (b) and (d) */}
      <div style={{ position: 'absolute', left: 440, top: 0 }}>
        <ComposedChart width={440} height={470} margin={{ top: 8, right: 24, left: 0, bottom: 0 }}>
          <XAxis dataKey="v" type="number" domain={[-2, 2]} ticks={X_TICKS} tickFormatter={fmtXRight} height={50}
            tickSize={-5} tickMargin={17} tick={tickStyle} axisLine={axisLine} tickLine={tickLine} allowDataOverflow />
          <XAxis xAxisId="top" orientation="top" type="number" domain={[-2, 2]} height={0} tick={false} tickLine={false} axisLine={axisLine} />
          <YAxis dataKey="t" type="number" domain={[99.85, 112.05]} ticks={Y_TICKS} tickFormatter={fmtY} width={39}
            tickSize={-5} tickMargin={21} tick={tickStyle} axisLine={axisLine} tickLine={tickLine} allowDataOverflow />
          {lines([[FIT_B, C.orangeFit, 2], [FIT_D, C.blueFit, 3]], 'fit')}
          <Scatter data={pts(SCAT_B)} shape={dot(C.orangePt, 1.6)} isAnimationActive={false} />
          <Scatter data={pts(SCAT_B2)} shape={dot(C.orangePt, 1.6)} isAnimationActive={false} />
          <Scatter data={pts(SCAT_D)} shape={dot(C.bluePt, 1.2)} isAnimationActive={false} />
          <Scatter data={pts(SCAT_D2)} shape={dot(C.bluePt, 1.2)} isAnimationActive={false} />
          {lines([
            [BASE_TOP, C.tan, 1.5], [BASE_BOT, C.tan, 1.5],
            [RED_B, C.red, 1.5], [GREEN_B, C.green, 1.5], [DKRED_B, C.dkred, 1.5], [PINK_B, C.pink, 1.5], [BLUE_B, C.blue, 1.5],
            [GREEN_D, C.greenD, 1.5], [RED2_D, C.red2, 1.5], [PURPLE_D, C.purple, 1.5], [RED_D, C.red2, 1.5], [BLUE_D, C.blue, 1.8],
          ], 'comp')}
        </ComposedChart>
      </div>

      {/* annotations */}
      <Txt x={66} y={162} size={15.5} bold rotate>Transmission (u.a.)</Txt>
      <Txt x={498} y={162} size={15.5} bold rotate>Transmission (u.a.)</Txt>
      <Txt x={248} y={456} size={17.5} bold>Vitesse de vibration de la source (mm/s)</Txt>
      <Txt x={676} y={459} size={17.5} bold>Vitesse de vibration de la source (mm/s)</Txt>
      <Txt x={348} y={52} size={21}>190830A</Txt>
      <Txt x={359} y={137} size={25} bold>(a)</Txt>
      <Txt x={359} y={313} size={25} bold>(c)</Txt>
      <Txt x={316} y={405} size={21}>{'190830A  800 °C/72h'}</Txt>
      <Txt x={774} y={53} size={21}>191114B</Txt>
      <Txt x={806} y={137} size={25} bold>(b)</Txt>
      <Txt x={806} y={313} size={25} bold>(d)</Txt>
      <Txt x={720} y={408} size={21}>{'191114B  800 °C/72h'}</Txt>
    </div>
  );
}
